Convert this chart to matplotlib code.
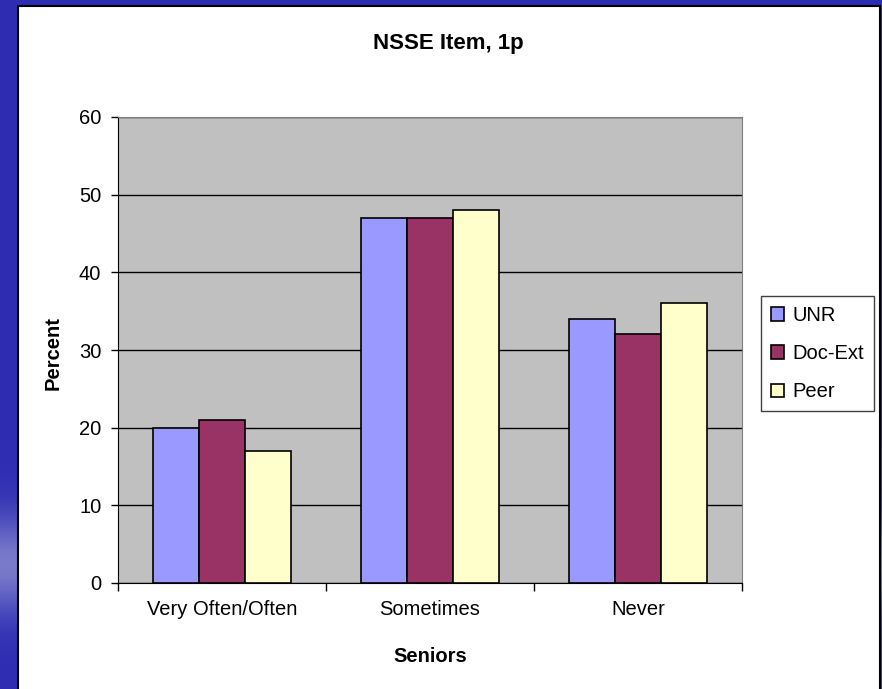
import numpy as np
import matplotlib
matplotlib.use("Agg")
import matplotlib.pyplot as plt
from matplotlib.patches import Rectangle

plt.rcParams['font.family'] = ['Liberation Sans', 'DejaVu Sans']

# data
categories = ['Very Often/Often', 'Sometimes', 'Never']
series_names = ['UNR', 'Doc-Ext', 'Peer']
unr = [20, 47, 34]
doc_ext = [21, 47, 32]
peer = [17, 48, 36]
colors = ['#9999FF', '#993366', '#FFFFCC']

fig = plt.figure(figsize=(8.82, 6.89), dpi=100)

# slide background (blue gradient) + white chart area
bg = fig.add_axes([0, 0, 1, 1], zorder=-10)
grad = np.ones((300, 1, 3))
yy = np.linspace(0, 1, 300)
base = np.array([0.18, 0.18, 0.70])
light = np.array([0.48, 0.48, 0.80])
w = np.exp(-((yy - 0.82) / 0.07) ** 2)
grad[:, 0, :] = base + (light - base) * w[:, None]
bg.imshow(grad, aspect='auto', extent=[0, 1, 0, 1])
bg.set_xlim(0, 1)
bg.set_ylim(0, 1)
bg.axis('off')
bg.add_patch(Rectangle((18 / 882, -0.01), (880 - 18) / 882, 1 - 6 / 689 + 0.01,
                       facecolor='white', edgecolor='black', linewidth=1.5))

ax = fig.add_axes([118 / 882, 1 - 583 / 689, (742 - 118) / 882, (583 - 117) / 689])
ax.set_facecolor('#C0C0C0')

x = np.arange(len(categories))
bw = 1 / 4.5
for j, (vals, name) in enumerate(zip([unr, doc_ext, peer], series_names)):
    ax.bar(x + (j - 1) * bw, vals, width=bw, color=colors[j], edgecolor='black',
           linewidth=1.2, label=name, zorder=3)

ax.set_xlim(-0.5, 2.5)
ax.set_ylim(0, 60)
ax.set_yticks(np.arange(0, 61, 10))
ax.yaxis.grid(True, color='black', linewidth=1, zorder=0)
ax.set_axisbelow(True)

ax.set_xticks(x)
ax.set_xticklabels(categories, fontsize=14.5)
ax.tick_params(axis='x', which='major', length=0, pad=12)
ax.set_xticks([-0.5, 0.5, 1.5, 2.5], minor=True)
ax.tick_params(axis='x', which='minor', length=6, width=1, direction='out')
ax.tick_params(axis='y', labelsize=14.5, length=5, width=1, pad=7)

for s in ['top', 'right']:
    ax.spines[s].set_color('#808080')
for s in ['left', 'bottom']:
    ax.spines[s].set_color('black')

fig.text(448 / 882, 1 - 44 / 689, 'NSSE Item, 1p', ha='center', va='center',
         fontsize=16, fontweight='bold')
fig.text(53 / 882, 1 - 353 / 689, 'Percent', ha='center', va='center',
         rotation=90, fontsize=14.5, fontweight='bold')
fig.text(430 / 882, 1 - 656 / 689, 'Seniors', ha='center', va='center',
         fontsize=14.5, fontweight='bold')

leg = ax.legend(loc='upper left', bbox_to_anchor=(761 / 882, 1 - 296 / 689),
                bbox_transform=fig.transFigure, borderaxespad=0, fontsize=14.5,
                fancybox=False, edgecolor='#404040', framealpha=1,
                handlelength=0.65, handleheight=0.65, handletextpad=0.4,
                labelspacing=0.95, borderpad=0.5)
leg.get_frame().set_linewidth(1)

fig.savefig('out.png', dpi=100)
